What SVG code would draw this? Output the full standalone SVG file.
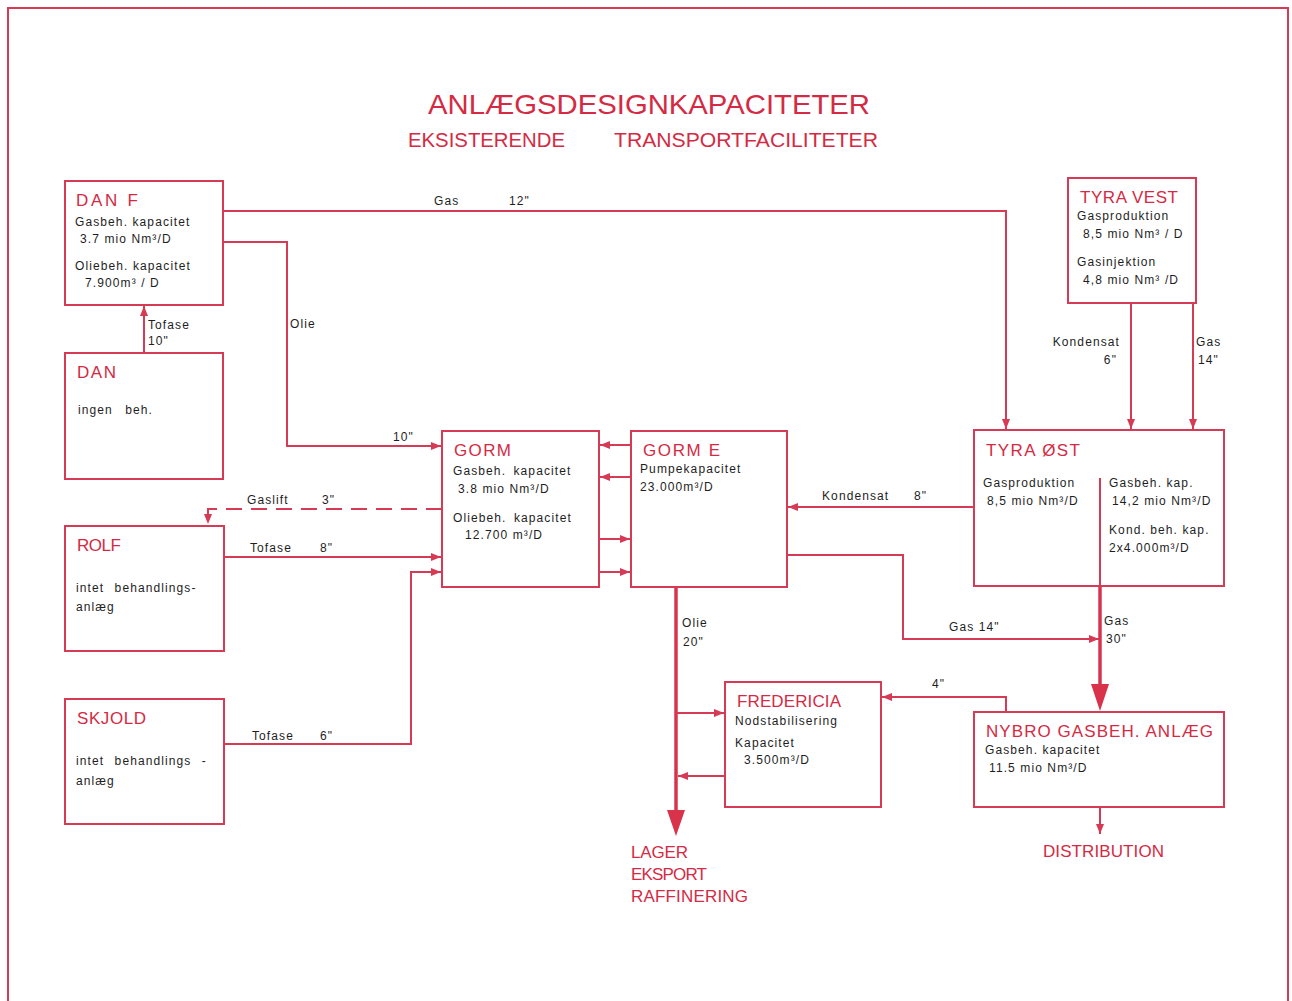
<svg xmlns="http://www.w3.org/2000/svg" width="1292" height="1001" viewBox="0 0 1292 1001">
<defs>
<style>
.box{fill:#fff;stroke:#d63a55;stroke-width:2}
.ln{fill:none;stroke:#d63a55;stroke-width:2}
.thick{fill:none;stroke:#d9334c;stroke-width:3.5}
.dash{fill:none;stroke:#d63a55;stroke-width:2;stroke-dasharray:16 9}
.t{font-family:"Liberation Sans",Arial,sans-serif;font-size:17px;fill:#d42a44}
.s{font-family:"Liberation Sans",Arial,sans-serif;font-size:12px;fill:#1e1e1e;letter-spacing:1.1px}
.h{font-family:"Liberation Sans",Arial,sans-serif;fill:#d42a44}
</style>
<marker id="a" viewBox="0 0 10 10" refX="10" refY="5" markerWidth="10" markerHeight="10" markerUnits="userSpaceOnUse" orient="auto"><path d="M0,1 L10,5 L0,9 z" fill="#d63a55"/></marker>
</defs>
<rect width="1292" height="1001" fill="#fff"/>
<path d="M8,1001 V8 H1288 V1001" fill="none" stroke="#d63a55" stroke-width="2"/>
<g id="title">
<text class="h" x="428" y="114" font-size="28" textLength="442" lengthAdjust="spacingAndGlyphs">ANLÆGSDESIGNKAPACITETER</text>
<text class="h" x="408" y="147" font-size="20" textLength="157" lengthAdjust="spacingAndGlyphs">EKSISTERENDE</text>
<text class="h" x="614" y="147" font-size="20" textLength="264" lengthAdjust="spacingAndGlyphs">TRANSPORTFACILITETER</text>
</g>
<g id="connectors">
<path class="ln" d="M144,353 V306" marker-end="url(#a)"/>
<text class="s" x="148" y="329">Tofase</text><text class="s" x="148" y="345">10"</text>
<path class="ln" d="M223,211 H1006 V429" marker-end="url(#a)"/>
<text class="s" x="434" y="205">Gas</text><text class="s" x="509" y="205">12"</text>
<path class="ln" d="M223,242 H287 V446 H441" marker-end="url(#a)"/>
<text class="s" x="290" y="328">Olie</text><text class="s" x="393" y="441">10"</text>
<path class="ln" d="M631,445 H600" marker-end="url(#a)"/>
<path class="ln" d="M631,477 H600" marker-end="url(#a)"/>
<path class="ln" d="M599,539 H630" marker-end="url(#a)"/>
<path class="ln" d="M599,572 H630" marker-end="url(#a)"/>
<path class="dash" d="M442,509 H208 V524" marker-end="url(#a)"/>
<text class="s" x="247" y="504">Gaslift</text><text class="s" x="322" y="504">3"</text>
<path class="ln" d="M224,557 H441" marker-end="url(#a)"/>
<text class="s" x="250" y="552">Tofase</text><text class="s" x="320" y="552">8"</text>
<path class="ln" d="M224,744 H411 V572 H441" marker-end="url(#a)"/>
<text class="s" x="252" y="740">Tofase</text><text class="s" x="320" y="740">6"</text>
<path class="ln" d="M1131,303 V429" marker-end="url(#a)"/>
<text class="s" x="1120" y="346" text-anchor="end">Kondensat</text><text class="s" x="1117" y="364" text-anchor="end">6"</text>
<path class="ln" d="M1193,303 V429" marker-end="url(#a)"/>
<text class="s" x="1196" y="346">Gas</text><text class="s" x="1198" y="364">14"</text>
<path class="ln" d="M974,507 H788" marker-end="url(#a)"/>
<text class="s" x="822" y="500">Kondensat</text><text class="s" x="914" y="500">8"</text>
<path class="ln" d="M787,555 H903 V639 H1099" marker-end="url(#a)"/>
<text class="s" x="949" y="631">Gas 14"</text>
<path class="thick" d="M1100,586 V690"/>
<path d="M1091,684 L1109,684 L1100,711 z" fill="#d9334c"/>
<text class="s" x="1104" y="625">Gas</text><text class="s" x="1106" y="643">30"</text>
<path class="ln" d="M1006,712 V697 H882" marker-end="url(#a)"/>
<text class="s" x="932" y="688">4"</text>
<path class="ln" d="M1100,807 V834" marker-end="url(#a)"/>
<path class="thick" d="M676,587 V815"/>
<path d="M667,810 L685,810 L676,836 z" fill="#d9334c"/>
<text class="s" x="682" y="627">Olie</text><text class="s" x="683" y="646">20"</text>
<path class="ln" d="M676,713 H724" marker-end="url(#a)"/>
<path class="ln" d="M725,776 H678" marker-end="url(#a)"/>
</g>
<g id="danf">
<rect class="box" x="65" y="181" width="158" height="124"/>
<text class="t" x="76" y="206" textLength="62">DAN  F</text>
<text class="s" x="75" y="226">Gasbeh. kapacitet</text>
<text class="s" x="80" y="243">3.7 mio Nm³/D</text>
<text class="s" x="75" y="270">Oliebeh. kapacitet</text>
<text class="s" x="85" y="287">7.900m³ / D</text>
</g>
<g id="dan">
<rect class="box" x="65" y="353" width="158" height="126"/>
<text class="t" x="77" y="378" textLength="39">DAN</text>
<text class="s" x="78" y="414" word-spacing="8">ingen beh.</text>
</g>
<g id="rolf">
<rect class="box" x="65" y="526" width="159" height="125"/>
<text class="t" x="77" y="551" textLength="44">ROLF</text>
<text class="s" x="76" y="592" word-spacing="6">intet behandlings-</text>
<text class="s" x="76" y="611">anlæg</text>
</g>
<g id="skjold">
<rect class="box" x="65" y="699" width="159" height="125"/>
<text class="t" x="77" y="724" textLength="69">SKJOLD</text>
<text class="s" x="76" y="765" word-spacing="6">intet behandlings -</text>
<text class="s" x="76" y="785">anlæg</text>
</g>
<g id="gorm">
<rect class="box" x="442" y="431" width="157" height="156"/>
<text class="t" x="454" y="456" textLength="57">GORM</text>
<text class="s" x="453" y="475" word-spacing="3">Gasbeh. kapacitet</text>
<text class="s" x="458" y="493">3.8 mio Nm³/D</text>
<text class="s" x="453" y="522" word-spacing="3">Oliebeh. kapacitet</text>
<text class="s" x="465" y="539">12.700 m³/D</text>
</g>
<g id="gorme">
<rect class="box" x="631" y="431" width="156" height="156"/>
<text class="t" x="643" y="456" textLength="77">GORM  E</text>
<text class="s" x="640" y="473">Pumpekapacitet</text>
<text class="s" x="640" y="491">23.000m³/D</text>
</g>
<g id="tyravest">
<rect class="box" x="1068" y="178" width="128" height="125"/>
<text class="t" x="1080" y="203" textLength="98">TYRA VEST</text>
<text class="s" x="1077" y="220" letter-spacing="1.6">Gasproduktion</text>
<text class="s" x="1083" y="238">8,5 mio Nm³ / D</text>
<text class="s" x="1077" y="266" letter-spacing="1.6">Gasinjektion</text>
<text class="s" x="1083" y="284">4,8 mio Nm³ /D</text>
</g>
<g id="tyraost">
<rect class="box" x="974" y="430" width="250" height="156"/>
<path class="ln" d="M1100,478 V586"/>
<text class="t" x="986" y="456" textLength="94">TYRA  ØST</text>
<text class="s" x="983" y="487" letter-spacing="1.6">Gasproduktion</text>
<text class="s" x="987" y="505">8,5 mio Nm³/D</text>
<text class="s" x="1109" y="487">Gasbeh. kap.</text>
<text class="s" x="1112" y="505">14,2 mio Nm³/D</text>
<text class="s" x="1109" y="534">Kond. beh. kap.</text>
<text class="s" x="1109" y="552">2x4.000m³/D</text>
</g>
<g id="fredericia">
<rect class="box" x="725" y="682" width="156" height="125"/>
<text class="t" x="737" y="707" textLength="104">FREDERICIA</text>
<text class="s" x="735" y="725">Nodstabilisering</text>
<text class="s" x="735" y="747">Kapacitet</text>
<text class="s" x="744" y="764">3.500m³/D</text>
</g>
<g id="nybro">
<rect class="box" x="974" y="712" width="250" height="95"/>
<text class="t" x="986" y="737" textLength="227">NYBRO  GASBEH.  ANLÆG</text>
<text class="s" x="985" y="754">Gasbeh. kapacitet</text>
<text class="s" x="989" y="772">11.5 mio Nm³/D</text>
</g>
<g id="outputs">
<text class="t" x="631" y="858" textLength="57">LAGER</text>
<text class="t" x="631" y="880" textLength="76">EKSPORT</text>
<text class="t" x="631" y="902" textLength="117">RAFFINERING</text>
<text class="t" x="1043" y="857" textLength="121">DISTRIBUTION</text>
</g>
</svg>
